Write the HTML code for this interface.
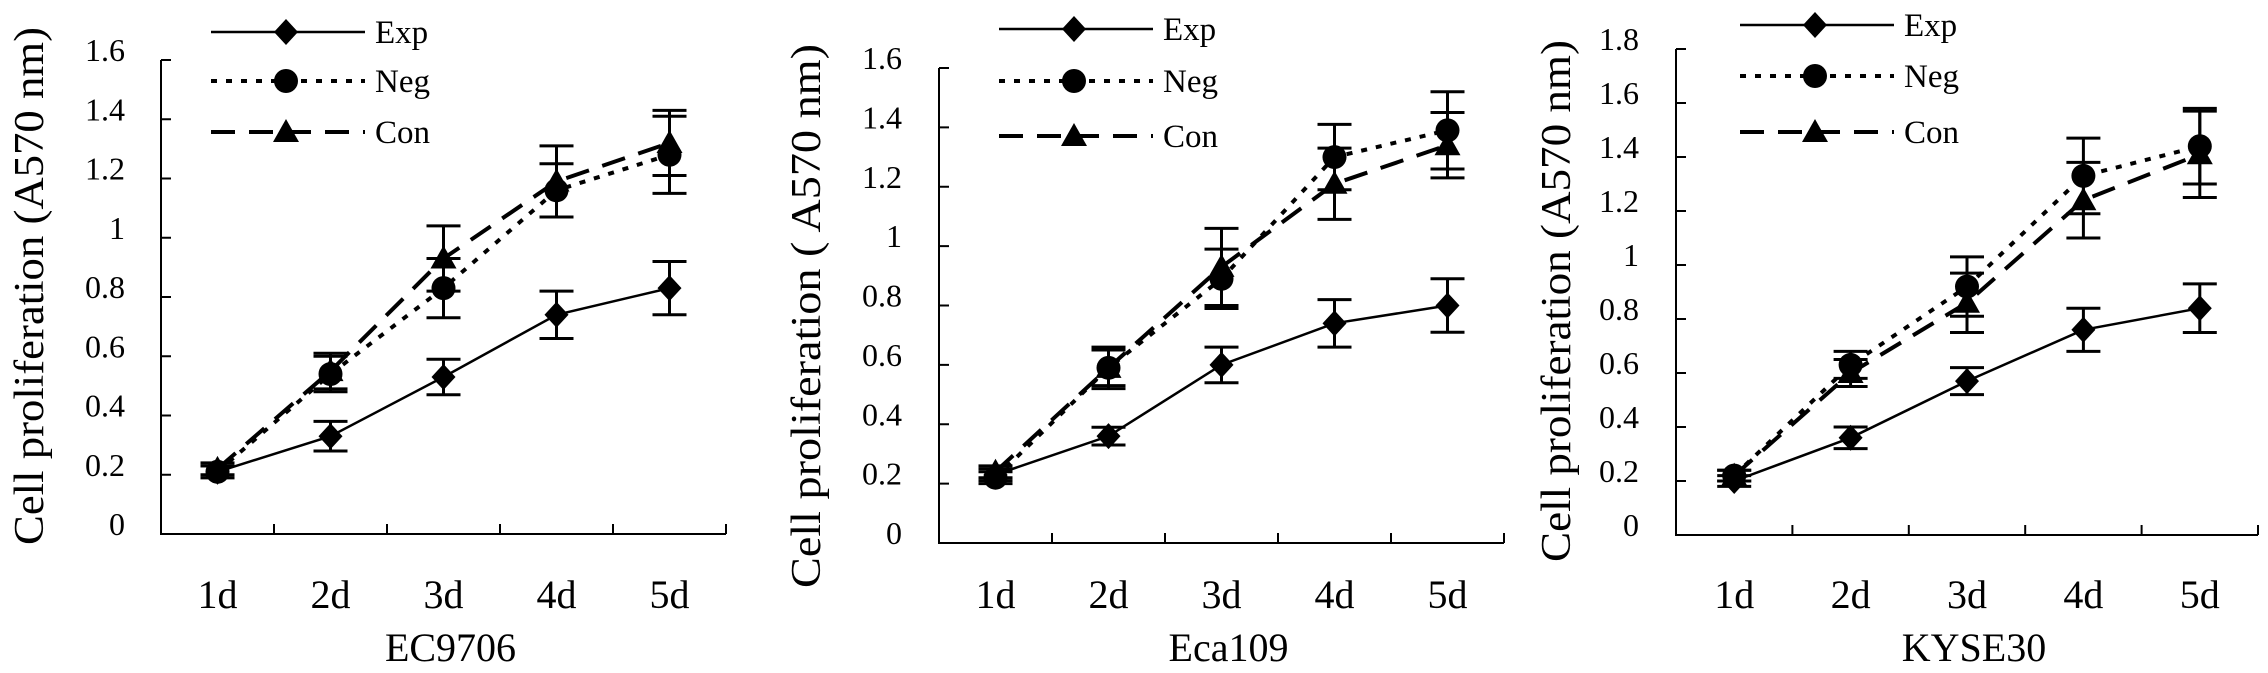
<!DOCTYPE html>
<html><head><meta charset="utf-8"><style>
html,body{margin:0;padding:0;background:#fff;}
svg{display:block;}
svg text{font-family:"Liberation Serif","Times New Roman",serif;}
</style></head><body>
<svg id="chart" width="2268" height="673" viewBox="0 0 2268 673" xmlns="http://www.w3.org/2000/svg" font-family="Liberation Serif, serif"></svg>
<script>
const categories = ["1d","2d","3d","4d","5d"];
const panelNames = ["EC9706","Eca109","KYSE30"];
const expValues = [[0.21,0.33,0.53,0.74,0.83],[0.23,0.36,0.60,0.74,0.80],[0.20,0.36,0.57,0.76,0.84]];
const expErrors = [[0.02,0.05,0.06,0.08,0.09],[0.02,0.03,0.06,0.08,0.09],[0.02,0.04,0.05,0.08,0.09]];
const negValues = [[0.21,0.54,0.83,1.16,1.28],[0.22,0.59,0.89,1.30,1.39],[0.22,0.63,0.92,1.33,1.44]];
const negErrors = [[0.02,0.06,0.10,0.09,0.13],[0.02,0.07,0.10,0.11,0.13],[0.02,0.05,0.11,0.14,0.14]];
const conValues = [[0.22,0.55,0.93,1.19,1.32],[0.24,0.59,0.93,1.21,1.34],[0.22,0.60,0.86,1.24,1.41]];
const conErrors = [[0.02,0.06,0.11,0.12,0.11],[0.02,0.06,0.13,0.12,0.11],[0.02,0.05,0.11,0.14,0.16]];
const yTickLabels = [["0","0.2","0.4","0.6","0.8","1","1.2","1.4","1.6"],["0","0.2","0.4","0.6","0.8","1","1.2","1.4","1.6"],["0","0.2","0.4","0.6","0.8","1","1.2","1.4","1.6","1.8"]];
const yTitles = ["Cell proliferation (A570 nm)","Cell proliferation ( A570 nm)","Cell proliferation (A570 nm)"];

const NS="http://www.w3.org/2000/svg";
const svg=document.getElementById('chart');
const FF='"Liberation Serif", serif';
function mk(tag,attrs,parent){const e=document.createElementNS(NS,tag);for(const k in attrs)e.setAttribute(k,attrs[k]);if(tag==='text')e.setAttribute('font-family',FF);(parent||svg).appendChild(e);return e;}

const layout=[
 {ax:161,top:60,base:534,cw:113,ymax:1.6,lblR:125,ytx:29,yty:286,ylen:518,legX:211,legY:[32,81,132]},
 {ax:939,top:68,base:543,cw:113,ymax:1.6,lblR:902,ytx:806,yty:316,ylen:544,legX:999,legY:[29,81,136]},
 {ax:1676,top:49,base:535,cw:116.4,ymax:1.8,lblR:1639,ytx:1556,yty:301,ylen:522,legX:1740,legY:[25,76,132]}
];
const series=[
 {name:"Exp",vals:expValues,errs:expErrors,dash:"",w:2.5,marker:"diamond"},
 {name:"Neg",vals:negValues,errs:negErrors,dash:"6 9",w:4,marker:"circle"},
 {name:"Con",vals:conValues,errs:conErrors,dash:"24 14",w:4,marker:"triangle"}
];
function drawMarker(type,x,y,g){
  if(type==="diamond") return mk('polygon',{points:`${x},${y-13} ${x+12},${y} ${x},${y+13} ${x-12},${y}`,fill:'#000'},g);
  if(type==="circle") return mk('circle',{cx:x,cy:y,r:12,fill:'#000'},g);
  return mk('polygon',{points:`${x},${y-13} ${x+13},${y+10} ${x-13},${y+10}`,fill:'#000'},g);
}
layout.forEach((L,p)=>{
  const g=mk('g',{});
  
  
  const yS=v=>L.base-(v/L.ymax)*(L.base-L.top);
  const xS=i=>L.ax+L.cw*(i+0.5);
  const right=L.ax+L.cw*categories.length;
  const axes=mk('path',{d:`M${L.ax},${L.top}V${L.base}H${right}`,stroke:'#000','stroke-width':2,fill:'none'},g);
  
  
  yTickLabels[p].forEach((t,i)=>{
    const v=parseFloat(t), y=yS(v);
    mk('line',{x1:L.ax,x2:L.ax+10,y1:y,y2:y,stroke:'#000','stroke-width':2},g);
    const tx=mk('text',{x:L.lblR,y:y+1,'text-anchor':'end','font-size':32},g);
    tx.textContent=t;
    
    
  });
  categories.forEach((c,i)=>{
    const xt=L.ax+L.cw*(i+1);
    mk('line',{x1:xt,x2:xt,y1:L.base,y2:L.base-10,stroke:'#000','stroke-width':2},g);
    const tx=mk('text',{x:xS(i),y:608,'text-anchor':'middle','font-size':40},g);
    tx.textContent=c;
    
    
  });
  const xt=mk('text',{x:(L.ax+right)/2+7,y:661,'text-anchor':'middle','font-size':40},g);
  xt.textContent=panelNames[p];
  
  
  const yt=mk('text',{x:0,y:0,'text-anchor':'middle','font-size':42,textLength:L.ylen,lengthAdjust:'spacingAndGlyphs',transform:`translate(${L.ytx+14},${L.yty}) rotate(-90)`},g);
  yt.textContent=yTitles[p];
  
  
  series.forEach((s,si)=>{
    const sg=mk('g',{},g);
    
    
    const pts=s.vals[p].map((v,i)=>xS(i)+','+yS(v)).join(' ');
    mk('polyline',{points:pts,fill:'none',stroke:'#000','stroke-width':s.w,'stroke-dasharray':s.dash},sg);
    s.vals[p].forEach((v,i)=>{
      const x=xS(i), e=s.errs[p][i];
      const y1=yS(v+e), y2=yS(v-e);
      mk('path',{d:`M${x},${y1}V${y2}M${x-17},${y1}H${x+17}M${x-17},${y2}H${x+17}`,stroke:'#000','stroke-width':3,fill:'none'},sg);
      const m=drawMarker(s.marker,x,yS(v),sg);
      
      
    });
    const lg=mk('g',{},g);
    
    
    const ly=L.legY[si];
    mk('line',{x1:L.legX,x2:L.legX+154,y1:ly,y2:ly,stroke:'#000','stroke-width':s.w,'stroke-dasharray':s.dash},lg);
    drawMarker(s.marker,L.legX+75,ly,lg);
    const lt=mk('text',{x:L.legX+164,y:ly+11,'font-size':33},lg);
    lt.textContent=s.name;
  });
});
</script>
</body></html>
